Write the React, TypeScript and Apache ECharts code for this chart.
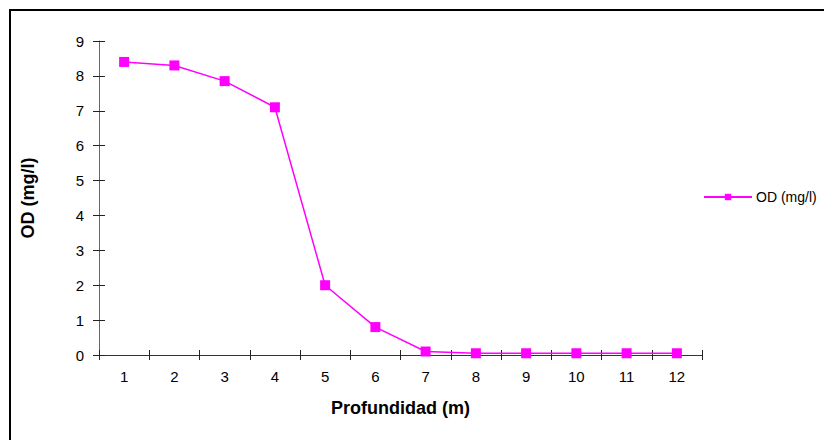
import React, { useEffect, useRef } from "react";
import * as echarts from "echarts";

const categories = ["1", "2", "3", "4", "5", "6", "7", "8", "9", "10", "11", "12"];
const odValues = [8.4, 8.3, 7.85, 7.1, 2.0, 0.8, 0.1, 0.05, 0.05, 0.05, 0.05, 0.05];
const seriesName = "OD (mg/l)";
const xAxisName = "Profundidad (m)";
const yAxisName = "OD (mg/l)";

export default function App() {
  const ref = useRef<HTMLDivElement>(null);
  useEffect(() => {
    if (!ref.current) return;
    const chart = echarts.init(ref.current, null, { renderer: "svg" });
    const font = "Liberation Sans, Arial, sans-serif";
    const grid = { left: 99, right: 122, top: 41, bottom: 85 };
    chart.setOption({
      animation: false,
      backgroundColor: "#ffffff",
      textStyle: { fontFamily: font },
      grid: [grid, grid],
      graphic: [
        {
          type: "rect",
          shape: { x: 10, y: 10, width: 900, height: 600 },
          style: { fill: "none", stroke: "#000", lineWidth: 2 },
          silent: true,
          z: 100,
        },
      ],
      legend: {
        left: 703,
        top: 190,
        padding: 0,
        itemWidth: 48,
        itemHeight: 8,
        itemGap: 4,
        textStyle: { fontFamily: font, fontSize: 14, color: "#000", padding: [0, 0, 0, -1] },
        data: [seriesName],
      },
      xAxis: [
        {
          type: "category",
          gridIndex: 0,
          data: categories,
          boundaryGap: true,
          name: xAxisName,
          nameLocation: "middle",
          nameGap: 44,
          nameTextStyle: { fontFamily: font, fontSize: 18, fontWeight: "bold", color: "#000" },
          axisLine: { lineStyle: { color: "#333", width: 1 } },
          axisTick: { show: true, length: 5, lineStyle: { color: "#222" } },
          axisLabel: { fontFamily: font, fontSize: 15, color: "#000", margin: 14 },
          splitLine: { show: false },
        },
        {
          type: "category",
          gridIndex: 1,
          data: categories,
          boundaryGap: true,
          axisLine: { show: false },
          axisTick: { show: true, inside: true, length: 5, lineStyle: { color: "#222" } },
          axisLabel: { show: false },
          splitLine: { show: false },
        },
      ],
      yAxis: [
        {
          type: "value",
          gridIndex: 0,
          min: 0,
          max: 9,
          interval: 1,
          name: yAxisName,
          nameLocation: "middle",
          nameGap: 62,
          nameTextStyle: { fontFamily: font, fontSize: 18, fontWeight: "bold", color: "#000" },
          axisLine: { show: true, lineStyle: { color: "#666", width: 1 } },
          axisTick: { show: true, length: 6, lineStyle: { color: "#222" } },
          axisLabel: { fontFamily: font, fontSize: 15, color: "#000", margin: 15 },
          splitLine: { show: false },
        },
        {
          type: "value",
          gridIndex: 1,
          min: 0,
          max: 9,
          interval: 1,
          axisLine: { show: false },
          axisTick: { show: true, inside: true, length: 6, lineStyle: { color: "#222" } },
          axisLabel: { show: false },
          splitLine: { show: false },
        },
      ],
      series: [
        {
          name: seriesName,
          type: "line",
          xAxisIndex: 0,
          yAxisIndex: 0,
          data: odValues,
          symbol: "rect",
          symbolSize: 10,
          itemStyle: { color: "#FF00FF" },
          lineStyle: { color: "#FF00FF", width: 1.5 },
          z: 5,
        },
      ],
    });
    return () => chart.dispose();
  }, []);
  return <div ref={ref} style={{ width: 824, height: 440, position: "absolute", left: 0, top: 0 }} />;
}
